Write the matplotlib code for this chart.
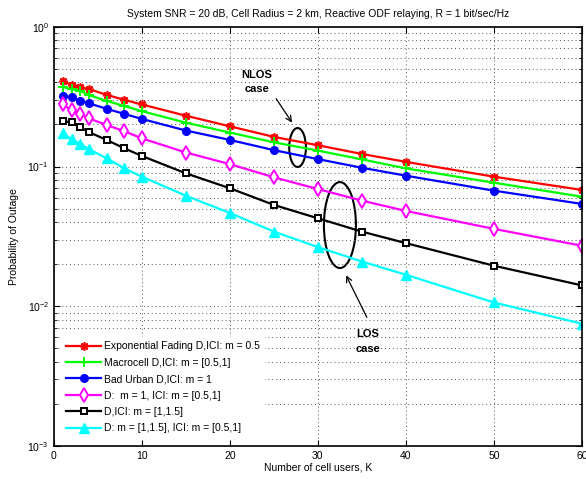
import numpy as np
import matplotlib
matplotlib.use("Agg")
import matplotlib.pyplot as plt
from matplotlib.patches import Ellipse

plt.rcParams['font.family'] = ['Liberation Sans', 'DejaVu Sans']
plt.rcParams['mathtext.fontset'] = 'custom'
plt.rcParams['mathtext.rm'] = 'Liberation Sans'

# Data
K = [1, 2, 3, 4, 6, 8, 10, 15, 20, 25, 30, 35, 40, 50, 60]
exp_fading = [0.408, 0.386, 0.370, 0.358, 0.326, 0.300, 0.278, 0.231, 0.194,
              0.163, 0.142, 0.123, 0.108, 0.0846, 0.0680]
macrocell = [0.371, 0.358, 0.348, 0.324, 0.295, 0.271, 0.249, 0.206, 0.175,
             0.149, 0.130, 0.1125, 0.097, 0.0766, 0.0608]
bad_urban = [0.321, 0.313, 0.295, 0.283, 0.259, 0.238, 0.219, 0.181, 0.155,
             0.131, 0.113, 0.098, 0.0860, 0.0672, 0.0540]
d_m1 = [0.278, 0.253, 0.237, 0.221, 0.198, 0.179, 0.159, 0.126, 0.104,
        0.0837, 0.069, 0.057, 0.0481, 0.0358, 0.0271]
d_ici = [0.211, 0.207, 0.191, 0.176, 0.155, 0.135, 0.119, 0.0894, 0.0699,
         0.0531, 0.0426, 0.0342, 0.0283, 0.0195, 0.0141]
d_m115 = [0.173, 0.157, 0.145, 0.133, 0.1145, 0.097, 0.0846, 0.0618, 0.0465,
          0.0342, 0.0265, 0.0209, 0.0168, 0.01064, 0.0075]

labels = ["Exponential Fading D,ICI: m = 0.5",
          "Macrocell D,ICI: m = [0.5,1]",
          "Bad Urban D,ICI: m = 1",
          "D:  m = 1, ICI: m = [0.5,1]",
          "D,ICI: m = [1,1.5]",
          "D: m = [1,1.5], ICI: m = [0.5,1]"]

fig = plt.figure(figsize=(5.86, 4.79), dpi=100)
ax = fig.add_axes([0.092, 0.069, 0.901, 0.875])

ax.semilogy(K, exp_fading, '-', color='#ff0000', marker=(8, 2, 0), ms=6, mew=1.2, lw=1.6, label=labels[0])
ax.semilogy(K, macrocell, '-', color='#00ff00', marker='+', ms=7, mew=1.4, lw=1.6, label=labels[1])
ax.semilogy(K, bad_urban, '-', color='#0000ff', marker='o', ms=5.5, lw=1.6, label=labels[2])
ax.semilogy(K, d_m1, '-', color='#ff00ff', marker='d', ms=7, mfc='white', mew=1.4, lw=1.6, label=labels[3])
ax.semilogy(K, d_ici, '-', color='black', marker='s', ms=5, mfc='white', mew=1.4, lw=1.6, label=labels[4])
ax.semilogy(K, d_m115, '-', color='#00ffff', marker='^', ms=7, lw=1.6, label=labels[5])

ax.set_xlim(0, 60)
ax.set_ylim(1e-3, 1)
ax.set_xticks([0, 10, 20, 30, 40, 50, 60])
ax.grid(True, which='major', linestyle=(0, (1, 3)), color='#555555', lw=0.7)
ax.grid(True, which='minor', axis='y', linestyle=(0, (1, 3)), color='#555555', lw=0.7)
ax.tick_params(which='both', direction='in', top=True, right=True, labelsize=7.5)
ax.tick_params(which='major', length=4)
ax.tick_params(which='minor', length=2)
for s in ax.spines.values():
    s.set_linewidth(1.2)

ax.set_title("System SNR = 20 dB, Cell Radius = 2 km, Reactive ODF relaying, R = 1 bit/sec/Hz",
             fontsize=7.5, pad=7)
ax.set_xlabel("Number of cell users, K", fontsize=7.5, labelpad=1)
ax.set_ylabel("Probability of Outage", fontsize=7.5, labelpad=6)

leg = ax.legend(loc='lower left', fontsize=7.5, handlelength=3.3, labelspacing=0.62,
                borderaxespad=0.8, frameon=True, fancybox=False, edgecolor='white',
                framealpha=1, handletextpad=0.3)

# annotations (axes fraction coordinates)
ax.add_patch(Ellipse((0.4615, 0.712), 0.0316, 0.093, transform=ax.transAxes,
                     fill=False, ec='black', lw=1.5))
ax.add_patch(Ellipse((0.5417, 0.527), 0.0606, 0.205, transform=ax.transAxes,
                     fill=False, ec='black', lw=1.5))
ax.annotate("", xy=(0.454, 0.766), xytext=(0.418, 0.834), xycoords='axes fraction',
            arrowprops=dict(arrowstyle='->', color='black', lw=0.9))
ax.text(0.384, 0.885, "NLOS", transform=ax.transAxes, ha='center', va='center',
        fontsize=8, fontweight='bold')
ax.text(0.384, 0.852, "case", transform=ax.transAxes, ha='center', va='center',
        fontsize=8, fontweight='bold')
ax.annotate("", xy=(0.551, 0.413), xytext=(0.595, 0.301), xycoords='axes fraction',
            arrowprops=dict(arrowstyle='->', color='black', lw=0.9))
ax.text(0.595, 0.266, "LOS", transform=ax.transAxes, ha='center', va='center',
        fontsize=8, fontweight='bold')
ax.text(0.595, 0.232, "case", transform=ax.transAxes, ha='center', va='center',
        fontsize=8, fontweight='bold')

fig.savefig("out.png", dpi=100)
